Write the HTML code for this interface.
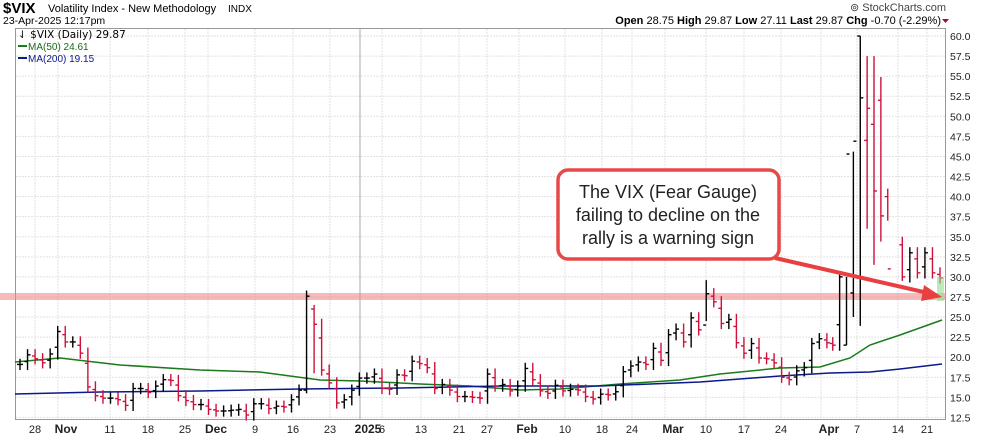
<!DOCTYPE html>
<html><head><meta charset="utf-8"><style>
body{margin:0;width:990px;height:438px;background:#fff;overflow:hidden;font-family:"Liberation Sans",Arial,sans-serif;}
</style></head><body>
<svg id="s" width="990" height="438" xmlns="http://www.w3.org/2000/svg" font-family="Liberation Sans, Arial, sans-serif">
<text x="3" y="13" font-size="15" font-weight="bold">$VIX</text>
<text x="48" y="12" font-size="11">Volatility Index - New Methodology</text>
<text x="228" y="12" font-size="10">INDX</text>
<text x="3" y="24" font-size="10.5">23-Apr-2025 12:17pm</text>
<text x="946" y="11" font-size="11" fill="#444" text-anchor="end">⊚ StockCharts.com</text>
<text x="941" y="24" font-size="11" text-anchor="end"><tspan font-weight="bold">Open</tspan> 28.75  <tspan font-weight="bold">High</tspan> 29.87  <tspan font-weight="bold">Low</tspan> 27.11  <tspan font-weight="bold">Last</tspan> 29.87  <tspan font-weight="bold">Chg</tspan> -0.70 (-2.29%)</text>
<path d="M942,19 l7,0 l-3.5,4z" fill="#a0102a"/>
<rect x="15.5" y="28.5" width="930" height="391" fill="none" stroke="#999"/>
<g id="grid"></g>
<g id="lab"></g>
<rect x="0" y="293" width="946" height="7" fill="#f08080" opacity="0.55"/>
<polyline fill="none" stroke="#1b7a1b" stroke-width="1.5" points="15,362 60,358 120,365 200,370 260,372 320,380 360,381 420,384 470,386 520,390 560,389 620,384 680,380 720,374 780,368 820,367 850,358 870,345 900,335 942,320"/>
<polyline fill="none" stroke="#0a1a8a" stroke-width="1.5" points="15,394 100,392 200,391 300,389 400,388 500,386 600,386 700,382 780,376 830,373 870,372 900,369 942,364"/>
<g id="bars"></g>
<rect x="937" y="277" width="7" height="24" fill="#8fe08f" opacity="0.6"/>
<text x="18" y="38" font-size="10.5" font-family="DejaVu Sans, sans-serif">⇃ $VIX (Daily) 29.87</text>
<line x1="18" y1="46" x2="27" y2="46" stroke="#1b7a1b" stroke-width="2"/><text x="28" y="50" font-size="10" fill="#1b6a1b">MA(50) 24.61</text>
<line x1="18" y1="58" x2="27" y2="58" stroke="#0a1a8a" stroke-width="2"/><text x="28" y="62" font-size="10" fill="#0a1a8a">MA(200) 19.15</text>
<rect x="558" y="170" width="221" height="89" rx="10" fill="#fff" stroke="#e84848" stroke-width="3.5"/>
<g font-size="18" text-anchor="middle" fill="#222"><text x="668" y="198">The VIX (Fear Gauge)</text><text x="668" y="221">failing to decline on the</text><text x="668" y="244">rally is a warning sign</text></g>
<line x1="775" y1="258" x2="928" y2="293" stroke="#e84040" stroke-width="4"/>
<path d="M942,297 L924,285 L921,301z" fill="#e84040"/>
</svg>
<script>
var S="http://www.w3.org/2000/svg";
function el(p,t,a,tx){var e=document.createElementNS(S,t);for(var k in a)e.setAttribute(k,a[k]);if(tx)e.textContent=tx;document.getElementById(p).appendChild(e);return e;}
function Y(v){return 36+(60-v)*8.03;}
for(var v=12.5;v<=60;v+=2.5){var y=Y(v);el('grid','line',{x1:16,x2:945,y1:y,y2:y,stroke:'#e2e2e2','stroke-dasharray':'2,1'});el('lab','text',{x:950,y:y+4,'font-size':10.5,fill:'#222'},v.toFixed(1));}
var xl=[[35,'28'],[66,'Nov',1],[110,'11'],[148,'18'],[185,'25'],[216,'Dec',1],[255,'9'],[293,'16'],[330,'23'],[368,'2025',1],[382,'6'],[421,'13'],[459,'21'],[487,'27'],[527,'Feb',1],[565,'10'],[602,'18'],[632,'24'],[673,'Mar',1],[706,'10'],[744,'17'],[781,'24'],[829,'Apr',1],[857,'7'],[898,'14'],[927,'21']];
xl.forEach(function(a){var gx=a[0]-(a[2]?8:0);el('grid','line',{x1:gx,x2:gx,y1:29,y2:419,stroke:a[1]=='2025'?'#aaa':'#e2e2e2','stroke-dasharray':a[1]=='2025'?'':'2,1'});el('lab','text',{x:a[0],y:433,'font-size':a[2]?12:11,'font-weight':a[2]?'bold':'normal','text-anchor':'middle',fill:'#222'},a[1]);});
var c=[19.1,20.3,19.8,19.3,20.4,23.2,21.9,21.9,20.5,16.3,15.2,14.9,14.9,14.7,14.0,16.1,16.1,15.6,16.4,17.2,17.1,15.2,14.6,14.1,14.1,13.5,13.3,13.3,13.4,13.5,12.8,14.2,14.2,13.6,13.9,13.8,14.7,15.9,27.6,24.1,18.4,16.8,14.3,14.7,15.9,17.4,17.4,17.9,16.1,16.0,17.8,17.7,19.5,19.2,18.7,16.1,16.6,15.9,15.1,15.1,15.0,14.9,17.9,16.4,16.6,15.8,16.4,18.6,17.2,15.8,15.5,16.5,15.8,16.0,15.9,15.1,14.8,15.4,15.3,15.7,18.2,18.9,19.4,19.1,21.1,19.6,22.8,23.5,21.9,24.9,23.4,27.9,26.9,24.2,24.7,21.8,20.5,21.7,19.9,19.8,19.3,17.5,17.2,18.3,18.7,21.7,22.3,21.8,21.5,30.0,45.3,46.9,52.3,51,40.7,37.6,31,30,33,30.5,33,30.5,29.87];
var ov={38:[28.3,15.5,15.9],39:[26.5,18,26],91:[29.6,24.5,24],110:[30,21.5,21.5],111:[45.6,25,28],112:[60,23.9,60],113:[57.5,36,47],114:[57.5,31.5,49],115:[54.9,34.4,52],116:[41,37,40],117:[35,29.5,34]};
var n=c.length,dx=(940-20)/(n-1);
for(var i=0;i<n;i++){var x=20+i*dx,p=i?c[i-1]:c[i],h,l,o;
if(i>=108)x-= (i>=117?0:6*(Math.min(i,116)-107)/9+1);
if(ov[i]){h=ov[i][0];l=ov[i][1];o=ov[i][2];}else{o=p+(c[i]-p)*0.3;h=Math.max(c[i],p)+0.7;l=Math.min(c[i],p)-0.7;}
var col=c[i]<p?'#d0103a':'#000';
el('bars','line',{x1:x,x2:x,y1:Y(h),y2:Y(l),stroke:col,'stroke-width':1.4});
el('bars','line',{x1:x-3,x2:x,y1:Y(o),y2:Y(o),stroke:col,'stroke-width':1.4});
el('bars','line',{x1:x,x2:x+3,y1:Y(c[i]),y2:Y(c[i]),stroke:col,'stroke-width':1.4});}
</script>
</body></html>
